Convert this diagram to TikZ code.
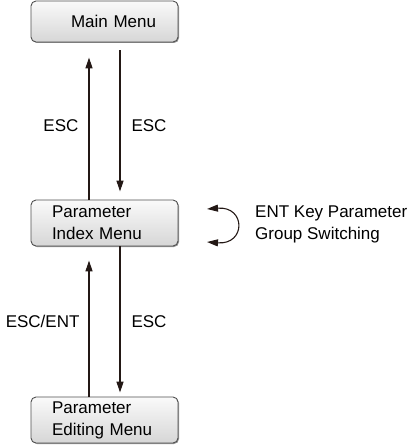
\documentclass[tikz,border=0pt]{standalone}
\usepackage{fontspec}
\setmainfont{Liberation Sans}
\usetikzlibrary{arrows.meta,shadows}
\definecolor{inkline}{RGB}{35,24,21}
\definecolor{boxedge}{RGB}{80,80,80}
\tikzset{
  menubox/.style={rectangle, rounded corners=5pt, draw=boxedge, line width=0.9pt,
    top color=gray!4, bottom color=gray!32, minimum height=46pt,
    drop shadow={shadow xshift=1pt, shadow yshift=-1pt, opacity=0.6, fill=black!70},
    text width=105pt, inner xsep=21pt, inner ysep=0pt, align=left,
    font=\fontsize{17}{22}\selectfont},
  keyline/.style={draw=inkline, line width=1.1pt, -{Triangle[length=11pt,width=7pt]}},
  keytext/.style={font=\fontsize{17}{22}\selectfont, inner sep=0pt}
}
\begin{document}
\begin{tikzpicture}[x=1pt, y=-1pt, line join=round]
\useasboundingbox (0,0) rectangle (412,446);
\def\dx{15.5}
\node[menubox, minimum height=41pt] (main) at (104.5,21.5) {\hspace*{19pt}Main Menu};
\node[menubox] (index) at (104.5,223) {Parameter\\Index Menu};
\node[menubox] (edit) at (104.5,420) {Parameter\\Editing Menu};
% main <-> index
\draw[keyline, shorten >=15pt] ([xshift=-\dx pt]index.north) -- ([xshift=-\dx pt]main.south)
  node[keytext, pos=0.47, left=10pt] (escup) {ESC};
\draw[keyline, shorten <=8pt, shorten >=8pt] ([xshift=\dx pt]main.south) -- ([xshift=\dx pt]index.north)
  node[keytext, pos=0.53, right=11pt] (escdown) {ESC};
% index <-> edit
\draw[keyline, shorten >=14pt] ([xshift=-\dx pt]edit.north) -- ([xshift=-\dx pt]index.south)
  node[keytext, pos=0.5, left=9pt] (escent) {ESC/ENT};
\draw[keyline, shorten >=4pt] ([xshift=\dx pt]index.south) -- ([xshift=\dx pt]edit.north)
  node[keytext, pos=0.5, right=11pt] (escedit) {ESC};
% ENT key switching
\node[keytext, anchor=west, align=left] (entnote) at (255,224) {ENT Key Parameter\\Group Switching};
\coordinate (swtop) at (207,209);
\coordinate (swbot) at (207,242);
\draw[draw=inkline, line width=1.1pt, {Triangle[length=11pt,width=7pt]}-{Triangle[length=11pt,width=7pt]}]
  (swtop) .. controls (246,206) and (246,245) .. (swbot);
\end{tikzpicture}
\end{document}
